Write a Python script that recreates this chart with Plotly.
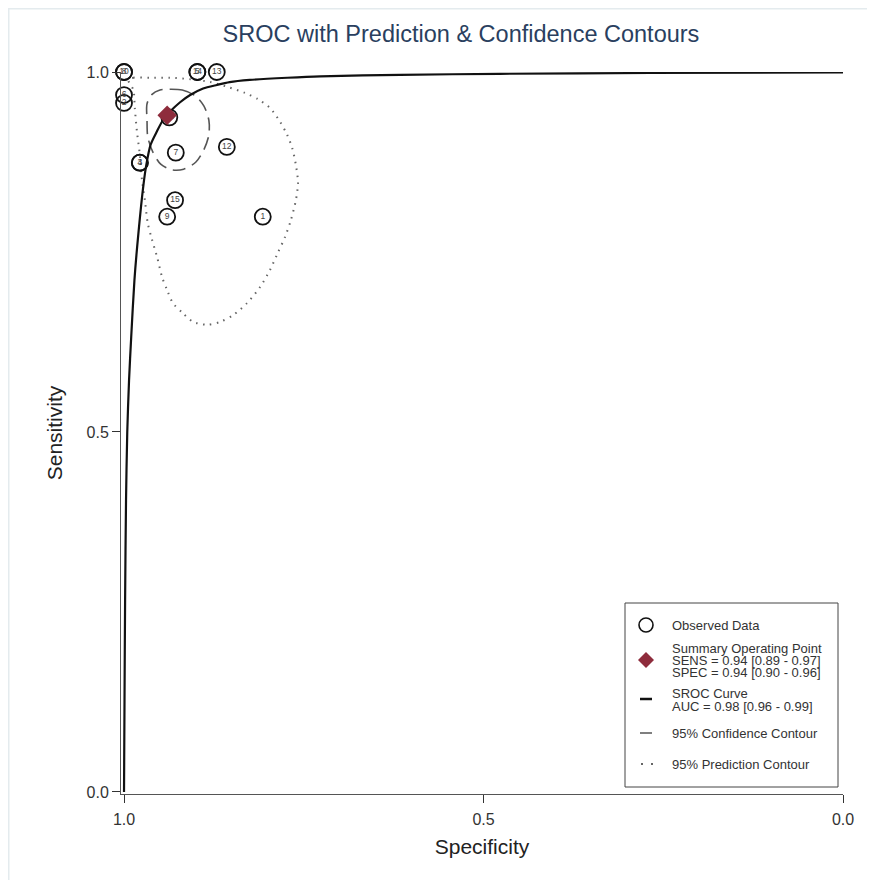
import plotly.graph_objects as go

# ---------------- data ----------------
study_ids = ["10", "8", "6", "2", "3", "4", "11", "7", "12", "15", "9", "1", "14", "5", "13"]
study_spec = [1.000, 1.000, 1.000, 1.000, 0.978, 0.978, 0.937, 0.928, 0.857, 0.929, 0.940, 0.807, 0.898, 0.898, 0.871]
study_sens = [1.000, 1.000, 0.968, 0.957, 0.874, 0.874, 0.937, 0.888, 0.896, 0.822, 0.799, 0.799, 1.000, 1.000, 1.000]

summary_spec = [0.94]
summary_sens = [0.94]

sroc_spec = [1.000, 0.9993, 0.9985, 0.9972, 0.9955, 0.993, 0.990, 0.9855, 0.980, 0.973, 0.969,
             0.963, 0.954, 0.946, 0.936, 0.922, 0.908, 0.890, 0.871, 0.853, 0.825, 0.773,
             0.727, 0.616, 0.477, 0.268, 0.000]
sroc_sens = [0.000, 0.128, 0.267, 0.406, 0.500, 0.572, 0.632, 0.711, 0.776, 0.843, 0.871,
             0.899, 0.918, 0.933, 0.945, 0.958, 0.968, 0.977, 0.982, 0.986, 0.989, 0.992,
             0.994, 0.996, 0.9975, 0.9986, 0.9993]

conf_spec = [0.940, 0.919, 0.901, 0.889, 0.882, 0.882, 0.889, 0.900, 0.917, 0.933, 0.949,
             0.960, 0.967, 0.968, 0.968, 0.961, 0.950, 0.940]
conf_sens = [0.976, 0.975, 0.967, 0.953, 0.933, 0.9125, 0.892, 0.875, 0.865, 0.864, 0.872,
             0.889, 0.910, 0.933, 0.956, 0.969, 0.975, 0.976]

pred_spec = [0.994, 0.987, 0.964, 0.936, 0.908, 0.880, 0.855, 0.832, 0.814, 0.797, 0.783,
             0.773, 0.766, 0.761, 0.758, 0.761, 0.768, 0.776, 0.786, 0.797, 0.811, 0.829,
             0.848, 0.866, 0.885, 0.904, 0.918, 0.932, 0.940, 0.947, 0.954, 0.961, 0.967,
             0.971, 0.975, 0.978, 0.982, 0.985, 0.987, 0.994]
pred_sens = [0.989, 0.992, 0.992, 0.992, 0.990, 0.986, 0.979, 0.971, 0.9625, 0.950, 0.931,
             0.9125, 0.894, 0.871, 0.846, 0.822, 0.794, 0.771, 0.749, 0.725, 0.701, 0.679,
             0.6625, 0.653, 0.649, 0.653, 0.665, 0.679, 0.697, 0.715, 0.743, 0.767, 0.790,
             0.822, 0.850, 0.885, 0.917, 0.950, 0.975, 0.989]

tick_vals = [1.0, 0.5, 0.0]
tick_text = ["1.0", "0.5", "0.0"]

# legend entries: each entry is a list of text lines
legend_entries = [
    ["Observed Data"],
    ["Summary Operating Point", "SENS = 0.94 [0.89 - 0.97]", "SPEC = 0.94 [0.90 - 0.96]"],
    ["SROC Curve", "AUC = 0.98 [0.96 - 0.99]"],
    ["95% Confidence Contour"],
    ["95% Prediction Contour"],
]

FONT = "Liberation Sans, Arial, sans-serif"

# ---------------- figure geometry ----------------
W, H = 875, 880
ML, MR, MT, MB = 113, 40, 64, 94
PW, PH = W - ML - MR, H - MT - MB


def px(xfig):   # figure pixel -> paper x
    return (xfig - ML) / PW


def py(yfig):   # figure pixel (from top) -> paper y
    return (H - MB - yfig) / PH


fig = go.Figure()

fig.add_trace(go.Scatter(
    x=pred_spec, y=pred_sens, mode="lines", name="95% Prediction Contour",
    line=dict(color="#666666", width=2, dash="1.5px,5.5px", shape="spline", smoothing=0.8),
    showlegend=False, hoverinfo="skip"))

fig.add_trace(go.Scatter(
    x=conf_spec, y=conf_sens, mode="lines", name="95% Confidence Contour",
    line=dict(color="#555555", width=1.6, dash="13px,7px", shape="spline", smoothing=0.8),
    showlegend=False, hoverinfo="skip"))

fig.add_trace(go.Scatter(
    x=sroc_spec, y=sroc_sens, mode="lines", name="SROC Curve",
    line=dict(color="#111111", width=2.2, shape="spline", smoothing=0.7),
    showlegend=False))

fig.add_trace(go.Scatter(
    x=study_spec, y=study_sens, mode="markers", name="Observed Data",
    marker=dict(symbol="circle", size=16, color="rgba(255,255,255,0)",
                line=dict(color="#111111", width=1.8)),
    cliponaxis=False, showlegend=False))

fig.add_trace(go.Scatter(
    x=study_spec, y=study_sens, mode="text", text=study_ids,
    textfont=dict(family=FONT, size=8.5, color="#444444"),
    textposition="middle center", cliponaxis=False, showlegend=False,
    hoverinfo="skip"))

fig.add_trace(go.Scatter(
    x=summary_spec, y=summary_sens, mode="markers", name="Summary Operating Point",
    marker=dict(symbol="diamond", size=15, color="#8e2c3c",
                line=dict(color="#8e2c3c", width=0)),
    cliponaxis=False, showlegend=False))

axis_common = dict(
    showgrid=False, zeroline=False, showline=True, linecolor="#555555", linewidth=1,
    ticks="outside", ticklen=8, tickcolor="#333333", tickwidth=1,
    tickvals=tick_vals, ticktext=tick_text,
    tickfont=dict(family=FONT, size=16, color="#333333"),
    mirror=False,
)

fig.update_xaxes(
    range=[1.0042, 0.0], autorange=False, ticklabelstandoff=3,
    title=dict(text="Specificity", font=dict(family=FONT, size=21, color="#222222"), standoff=12),
    **axis_common)
fig.update_yaxes(
    range=[-0.0028, 1.0], autorange=False,
    title=dict(text="Sensitivity", font=dict(family=FONT, size=21, color="#222222"), standoff=18),
    **axis_common)

# ---------------- manual legend (figure-pixel layout) ----------------
LX0, LX1, LY0, LY1 = 617, 830, 595, 779   # box
SYM_X = 638                                 # symbol column centre
TXT_X = 663                                 # text column left
entry_line_y = [[617], [640, 652, 664], [685, 698], [725], [756]]
entry_sym_y = [617, 652, 691, 725, 756]

shapes = [
    # faint page frame
    dict(type="rect", xref="paper", yref="paper",
         x0=px(0.5), x1=1.2, y0=-0.3, y1=py(0.5),
         line=dict(color="#e4ebee", width=2), layer="below"),
    # legend box
    dict(type="rect", xref="paper", yref="paper",
         x0=px(LX0), x1=px(LX1), y0=py(LY1), y1=py(LY0),
         line=dict(color="#444444", width=1), fillcolor="white", layer="above"),
    # observed data symbol
    dict(type="circle", xref="paper", yref="paper", xsizemode="pixel", ysizemode="pixel",
         xanchor=px(SYM_X), yanchor=py(entry_sym_y[0]), x0=-7, x1=7, y0=-7, y1=7,
         line=dict(color="#111111", width=1.6), fillcolor="white", layer="above"),
    # summary diamond
    dict(type="path", xref="paper", yref="paper", xsizemode="pixel", ysizemode="pixel",
         xanchor=px(SYM_X), yanchor=py(entry_sym_y[1]),
         path="M -8 0 L 0 8 L 8 0 L 0 -8 Z",
         line=dict(color="#8e2c3c", width=0), fillcolor="#8e2c3c", layer="above"),
    # SROC line sample
    dict(type="line", xref="paper", yref="paper",
         x0=px(SYM_X - 6), x1=px(SYM_X + 6), y0=py(entry_sym_y[2]), y1=py(entry_sym_y[2]),
         line=dict(color="#111111", width=2.5), layer="above"),
    # confidence sample
    dict(type="line", xref="paper", yref="paper",
         x0=px(SYM_X - 6), x1=px(SYM_X + 6), y0=py(entry_sym_y[3]), y1=py(entry_sym_y[3]),
         line=dict(color="#555555", width=1.5), layer="above"),
    # prediction sample
    dict(type="line", xref="paper", yref="paper",
         x0=px(SYM_X - 5), x1=px(SYM_X + 7), y0=py(entry_sym_y[4]), y1=py(entry_sym_y[4]),
         line=dict(color="#666666", width=2, dash="2px,8px"), layer="above"),
]

annotations = []
for lines, ys in zip(legend_entries, entry_line_y):
    for t, yy in zip(lines, ys):
        annotations.append(dict(
            text=t, xref="paper", yref="paper", x=px(TXT_X), y=py(yy),
            xanchor="left", yanchor="middle", showarrow=False, borderpad=0,
            font=dict(family=FONT, size=13, color="#333333")))

fig.update_layout(
    width=W, height=H,
    margin=dict(l=ML, r=MR, t=MT, b=MB, autoexpand=False),
    paper_bgcolor="white", plot_bgcolor="white",
    title=dict(text="SROC with Prediction & Confidence Contours",
               font=dict(family=FONT, size=23.5, color="#2a3f5f"),
               x=0.5177, xanchor="center", xref="container",
               y=1 - 26 / 880, yanchor="middle", yref="container"),
    showlegend=False,
    shapes=shapes,
    annotations=annotations,
)

fig.write_html("out.html")
